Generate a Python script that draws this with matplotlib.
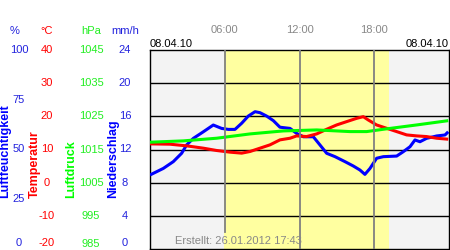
import numpy as np
import matplotlib
matplotlib.use('Agg')
import matplotlib.pyplot as plt
from matplotlib.transforms import blended_transform_factory

plt.rcParams['font.family'] = ['Liberation Sans', 'DejaVu Sans']

# humidity (%) over hours of 08.04.10
hum_h = [0, 1.07, 1.87, 2.54, 2.94, 3.48, 4.28, 5.08, 5.75, 6.29, 6.82, 7.36, 7.89, 8.43, 8.83,
         9.36, 9.9, 10.43, 11.24, 11.77, 12.31, 13.11, 13.64, 14.18, 14.85, 15.65, 16.32,
         16.85, 17.25, 17.66, 18.19, 18.73, 19.8, 20.33, 20.87, 21.27, 21.67, 22.2, 23.01, 23.68, 23.94]
hum = [37.2, 40.5, 43.9, 48.1, 52.3, 55.6, 58.9, 62.3, 60.6, 60.1, 60.1, 63.2, 66.8, 69.0, 68.5,
       66.8, 64.5, 61.2, 60.6, 58.1, 56.4, 56.4, 52.3, 48.1, 46.4, 43.9, 41.7,
       39.7, 37.5, 40.5, 45.6, 46.4, 46.7, 48.9, 51.4, 54.8, 53.9, 55.6, 56.8, 57.3, 58.9]

# temperature (degC)
temp_h = [0, 1.6, 2.94, 4.28, 5.35, 6.42, 7.36, 8.03, 8.83, 9.63, 10.43, 11.24, 11.77, 12.57,
          13.38, 14.18, 14.98, 15.78, 16.59, 17.12, 17.52, 18.19, 18.99, 19.8, 20.6, 21.4,
          22.2, 23.01, 23.94]
temp = [11.7, 11.6, 11.1, 10.4, 9.7, 9.2, 8.9, 9.4, 10.4, 11.4, 12.9, 13.4, 14.1, 13.9,
        14.7, 16.1, 17.4, 18.4, 19.4, 19.9, 18.9, 17.4, 16.4, 15.4, 14.4, 14.1,
        13.9, 13.4, 13.1]

# pressure (hPa)
pres_h = [0, 2.68, 5.35, 8.03, 10.7, 13.38, 16.05, 17.39, 18.73, 21.4, 23.94]
pres = [1017.2, 1017.6, 1018.4, 1019.7, 1020.6, 1020.9, 1020.4, 1020.4, 1021.1, 1022.4, 1023.7]

hum_ticks = [0, 25, 50, 75, 100]
temp_ticks = [-20, -10, 0, 10, 20, 30, 40]
pres_ticks = [985, 995, 1005, 1015, 1025, 1035, 1045]
rain_ticks = [0, 4, 8, 12, 16, 20, 24]
hour_ticks = [6, 12, 18]
daylight = (5.95, 19.2)

fig = plt.figure(figsize=(4.5, 2.5), dpi=100)
ax = fig.add_axes([150/450, 1/250, 299/450, 199/250])
ax.set_xlim(0, 24)
ax.set_ylim(0, 100)
ax.set_facecolor('#f3f3f3')
ax.axvspan(daylight[0], daylight[1], color='#ffffa0', zorder=0, lw=0)
for v in np.linspace(0, 100, 7)[1:-1]:
    ax.axhline(v, color='black', lw=1, zorder=1)
ax.set_xticks([])
ax.set_yticks([])
for s in ax.spines.values():
    s.set_color('black')
    s.set_linewidth(1)

# one overlay axis per quantity, stacked above the background axis
ax_h = ax.twinx()
ax_h.set_ylim(0, 100)
ax_t = ax.twinx()
ax_t.set_ylim(-20, 40)
ax_p = ax.twinx()
ax_p.set_ylim(985, 1045)
ax_r = ax.twinx()
ax_r.set_ylim(0, 24)
for a in (ax_h, ax_t, ax_p, ax_r):
    a.set_yticks([])
    a.patch.set_visible(False)
    for s in a.spines.values():
        s.set_visible(False)

ax_h.plot(hum_h, hum, color='#0000ff', lw=2.2, solid_capstyle='butt')
ax_t.plot(temp_h, temp, color='#ff0000', lw=2.2, solid_capstyle='butt')
ax_p.plot(pres_h, pres, color='#00ff00', lw=2.2, solid_capstyle='butt')

# hour lines sit on top of the curves
ax_r.axvline(6, ymin=17/199, color='#808080', lw=1.3)
ax_r.axvline(12, color='#808080', lw=1.3)
ax_r.axvline(18, color='#808080', lw=1.3)

# left scales
fs = 8
cols = [(19, hum_ticks, ax_h, '#2222dd', '%'), (47, temp_ticks, ax_t, '#ff0000', '°C'),
        (91, pres_ticks, ax_p, '#22ee22', 'hPa'), (125, rain_ticks, ax_r, '#2222dd', 'mm/h')]
for xpx, ticks, a, c, unit in cols:
    tr = blended_transform_factory(fig.transFigure, a.transData)
    for t in ticks:
        # lowest label is nudged up so it stays inside the figure
        y = t if t != ticks[0] else ticks[0] + (ticks[-1] - ticks[0]) * 5.5/199
        fig.text(xpx/450, y, str(t), color=c, fontsize=fs, ha='center', va='center',
                 transform=tr)
    fig.text(xpx/450 - (4 if unit == '%' else 0)/450, 1 - 31/250, unit, color=c, fontsize=fs,
             ha='center', va='center')

for xpx, lab, c in [(5, 'Luftfeuchtigkeit', '#0000ff'), (35, 'Temperatur', '#ff0000'),
                    (71, 'Luftdruck', '#00ff00'), (113, 'Niederschlag', '#0000ff')]:
    fig.text(xpx/450, 1 - 198/250, lab, color=c, fontsize=9, fontweight='bold',
             rotation=90, ha='center', va='bottom')

# top labels
trx = blended_transform_factory(ax.transData, fig.transFigure)
for h in hour_ticks:
    fig.text(h, 1 - 30/250, '%02d:00' % h, color='#888888', fontsize=fs, ha='center',
             va='center', transform=trx)
fig.text(150/450, 1 - 44/250, '08.04.10', color='black', fontsize=fs, ha='left', va='center')
fig.text(449/450, 1 - 44/250, '08.04.10', color='black', fontsize=fs, ha='right', va='center')
fig.text(175/450, 1 - 241/250, 'Erstellt: 26.01.2012 17:43', color='#888888', fontsize=fs,
         ha='left', va='center')

fig.savefig('out.png', dpi=100)
